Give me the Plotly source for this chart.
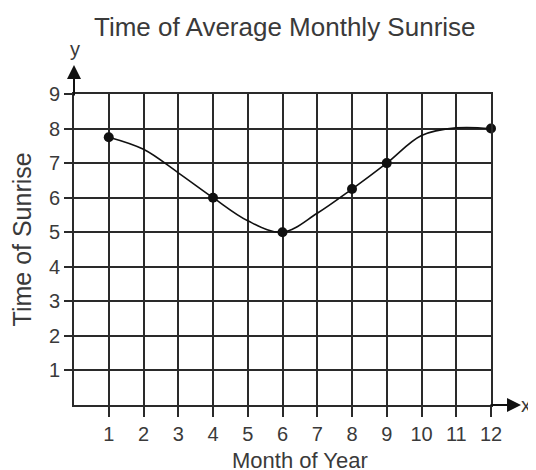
import plotly.graph_objects as go

# Data
months = [1, 4, 6, 8, 9, 12]
sunrise = [7.75, 6, 5, 6.25, 7, 8]
curve_months = [1, 2, 3, 4, 5, 6, 7, 8, 9, 10, 11, 12]
curve_sunrise = [7.75, 7.4, 6.72, 6.0, 5.33, 5.0, 5.55, 6.25, 7.0, 7.8, 8.02, 8.0]
x_ticks = [1, 2, 3, 4, 5, 6, 7, 8, 9, 10, 11, 12]
x_ticktext = [str(v) for v in x_ticks]
y_ticks = [1, 2, 3, 4, 5, 6, 7, 8, 9]
y_ticktext = [str(v) for v in y_ticks]

INK = "#2a2a2a"
TXT = "#3a3a3a"
FONT = "Liberation Sans, Arial, sans-serif"

fig = go.Figure()
fig.add_trace(go.Scatter(
    x=curve_months, y=curve_sunrise, mode="lines",
    line=dict(color="#111111", width=1.6, shape="spline", smoothing=1.0),
    hoverinfo="skip", showlegend=False, cliponaxis=False,
))
fig.add_trace(go.Scatter(
    x=months, y=sunrise, mode="markers",
    marker=dict(color="#111111", size=10, symbol="circle"),
    showlegend=False, cliponaxis=False,
))

axis_common = dict(
    showgrid=True, gridcolor=INK, gridwidth=2,
    showline=True, linecolor=INK, linewidth=2, mirror=True,
    zeroline=False, ticks="outside", tickcolor=INK, tickwidth=2,
    tickfont=dict(family=FONT, size=20, color=TXT),
    fixedrange=True, automargin=False,
)

# page body has an 8px default margin, so the figure is 8px smaller
fig.update_layout(
    width=528, height=462,
    margin=dict(l=66, r=45, t=86, b=65),
    paper_bgcolor="white", plot_bgcolor="white",
    xaxis=dict(range=[0, 12], tickvals=x_ticks, ticktext=x_ticktext,
               ticklen=10, **axis_common),
    yaxis=dict(range=[0, 9], tickvals=y_ticks, ticktext=y_ticktext,
               ticklen=8, **axis_common),
    font=dict(family=FONT, color=TXT),
)

annotations = [
    dict(text="Time of Average Monthly Sunrise", xref="paper", yref="paper",
         x=0.506, y=1.215, xanchor="center", yanchor="middle", showarrow=False,
         font=dict(size=26, family=FONT, color=TXT)),
    dict(text="Time of Sunrise", xref="paper", yref="paper",
         x=-0.125, y=0.532, xanchor="center", yanchor="middle", textangle=-90,
         showarrow=False, font=dict(size=25, family=FONT, color=TXT)),
    dict(text="Month of Year", xref="paper", yref="paper",
         x=0.542, y=-0.226, xanchor="center", yanchor="bottom",
         showarrow=False, font=dict(size=22, family=FONT, color=TXT)),
    dict(text="y", xref="paper", yref="paper", x=0.003, y=1.103,
         xanchor="center", yanchor="bottom", showarrow=False,
         font=dict(size=20, family=FONT, color=TXT)),
    dict(text="x", xref="paper", yref="paper", x=1.085, y=0.0,
         xanchor="center", yanchor="middle", showarrow=False,
         font=dict(size=20, family=FONT, color=TXT)),
    # axis arrows
    dict(text="", xref="paper", yref="paper", x=1.072, y=0.0,
         ax=-32, ay=0, showarrow=True, arrowhead=2, arrowsize=1.4,
         arrowwidth=2, arrowcolor="#111111", standoff=0),
    dict(text="", xref="paper", yref="paper", x=0.0, y=1.093,
         ax=0, ay=32, showarrow=True, arrowhead=2, arrowsize=1.4,
         arrowwidth=2, arrowcolor="#111111", standoff=0),
]
fig.update_layout(annotations=annotations)

fig.write_html("out.html")
